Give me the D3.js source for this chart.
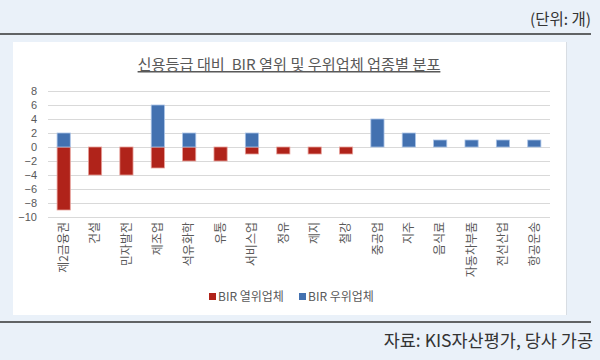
<!DOCTYPE html>
<html>
<head>
<meta charset="utf-8">
<script src="https://cdn.jsdelivr.net/npm/d3@7"></script>
<style>
  html, body { margin: 0; padding: 0; background: #eaf1f9; }
  svg { display: block; }
  text { font-family: "Noto Sans CJK KR", "Noto Sans", sans-serif; }
</style>
</head>
<body>
<svg id="chart" width="600" height="360"></svg>
<script>
const categories = ["제2금융권","건설","민자발전","제조업","석유화학","유통","서비스업","정유","제지","철강","중공업","지주","음식료","자동차부품","전선산업","항공운송"];
const inferiorValues = [-9,-4,-4,-3,-2,-2,-1,-1,-1,-1,0,0,0,0,0,0];
const superiorValues = [2,0,0,6,2,0,2,0,0,0,4,2,1,1,1,1];
const yTicks = [8,6,4,2,0,-2,-4,-6,-8,-10];
const seriesNames = ["BIR 열위업체","BIR 우위업체"];
const titleText = "신용등급 대비  BIR 열위 및 우위업체 업종별 분포";
const unitText = "(단위: 개)";
const sourceText = "자료: KIS자산평가, 당사 가공";

const colors = ["#b0231a", "#4371b0"];
const strokes = ["#e8a09a", "#a9c2e6"];

const svg = d3.select("#chart");

// background rules
svg.append("line").attr("x1",0).attr("x2",591).attr("y1",34).attr("y2",34)
  .attr("stroke","#333").attr("stroke-width",1.6);
svg.append("line").attr("x1",0).attr("x2",591).attr("y1",322).attr("y2",322)
  .attr("stroke","#333").attr("stroke-width",1.6);

svg.append("text").attr("x",591).attr("y",25).attr("text-anchor","end")
  .attr("font-size",15.5).attr("fill","#333").text(unitText);
svg.append("text").attr("x",593).attr("y",347).attr("text-anchor","end")
  .attr("font-size",17.5).attr("fill","#333").text(sourceText);

// white panel
svg.append("rect").attr("x",13).attr("y",42).attr("width",553).attr("height",273)
  .attr("fill","#fff");
svg.append("line").attr("x1",566.5).attr("x2",566.5).attr("y1",42).attr("y2",315)
  .attr("stroke","#d8dde3").attr("stroke-width",1);

// title
svg.append("text").attr("x",289).attr("y",70).attr("text-anchor","middle")
  .attr("font-size",15.2).attr("fill","#595959").attr("text-decoration","underline")
  .style("white-space","pre").attr("xml:space","preserve").text(titleText);

const x = d3.scaleBand().domain(categories).range([48, 550]).paddingInner(0.58).paddingOuter(0.29);
const y = d3.scaleLinear().domain([-10, 8]).range([217, 91]);

// grid
svg.append("g").selectAll("line").data(yTicks).join("line")
  .attr("x1",48).attr("x2",550)
  .attr("y1",d=>Math.round(y(d))+0.5).attr("y2",d=>Math.round(y(d))+0.5)
  .attr("stroke","#d9d9d9").attr("stroke-width",1);

// y axis labels
const yAxis = d3.axisLeft(y).tickValues(yTicks).tickSize(0).tickPadding(0);
const ya = svg.append("g").attr("transform","translate(37,0)").call(yAxis);
ya.select(".domain").remove();
ya.selectAll("text").attr("font-size",11).attr("fill","#595959")
  .style("font-family",'"Liberation Sans", Arial, sans-serif');

// bars
const data = categories.map((c,i)=>({c, neg: inferiorValues[i], pos: superiorValues[i]}));
svg.append("g").selectAll("rect").data(data.filter(d=>d.neg!==0)).join("rect")
  .attr("x",d=>x(d.c)).attr("width",x.bandwidth())
  .attr("y",y(0)).attr("height",d=>y(d.neg)-y(0))
  .attr("fill",colors[0]).attr("stroke",strokes[0]).attr("stroke-width",0.8);
svg.append("g").selectAll("rect").data(data.filter(d=>d.pos!==0)).join("rect")
  .attr("x",d=>x(d.c)).attr("width",x.bandwidth())
  .attr("y",d=>y(d.pos)).attr("height",d=>y(0)-y(d.pos))
  .attr("fill",colors[1]).attr("stroke",strokes[1]).attr("stroke-width",0.8);

// x labels (rotated)
const xAxis = d3.axisBottom(x).tickSize(0).tickPadding(0);
const xa = svg.append("g").attr("transform","translate(0,222)").call(xAxis);
xa.select(".domain").remove();
xa.selectAll("text")
  .attr("font-size",12).attr("fill","#595959")
  .attr("text-anchor","end")
  .attr("transform","rotate(-90)")
  .attr("x",0).attr("y",0).attr("dy","0.35em");

// legend
const legend = svg.append("g");
const lx = [209, 299];
seriesNames.forEach((n,i)=>{
  legend.append("rect").attr("x",lx[i]).attr("y",293).attr("width",7).attr("height",7).attr("fill",colors[i]);
  legend.append("text").attr("x",lx[i]+9).attr("y",301).attr("font-size",12).attr("fill","#595959").text(n);
});
</script>
</body>
</html>
